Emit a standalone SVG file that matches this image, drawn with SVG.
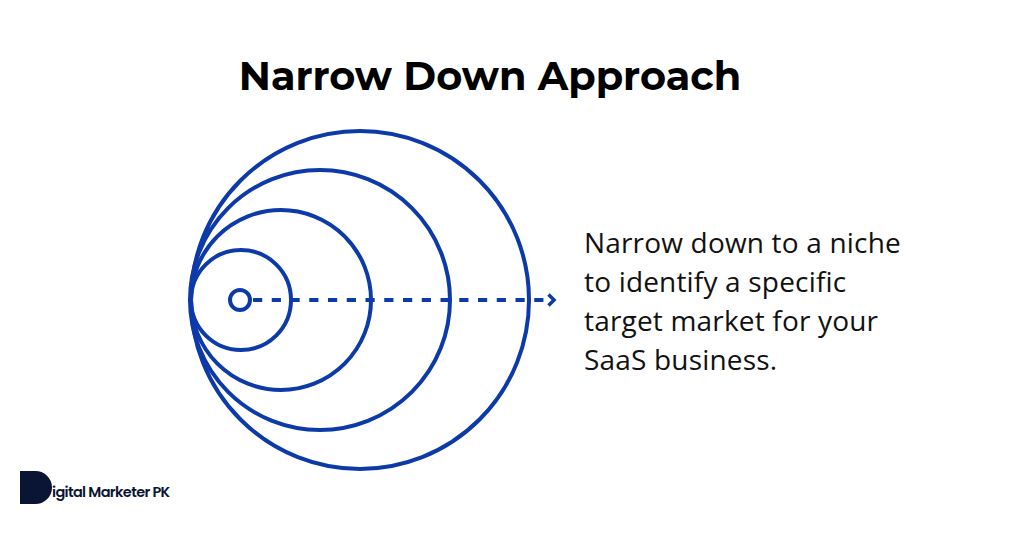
<svg xmlns="http://www.w3.org/2000/svg" width="1024" height="538" viewBox="0 0 1024 538">
<style>
.r{fill:none;stroke:#0d3aa9;stroke-width:4}
.b{font-family:"Open Sans","Noto Sans",sans-serif;font-size:28px;letter-spacing:.18px;fill:#111}
.t{font-family:Montserrat,Poppins,sans-serif;font-weight:700;font-size:39.800px;fill:#000}
</style>
<rect width="1024" height="538" fill="#fff"/>
<text id="title" class="t" x="490" y="90" text-anchor="middle">Narrow Down Approach</text>
<g id="circles">
<circle class="r" cx="360" cy="300" r="169"/>
<circle class="r" cx="320" cy="300" r="130"/>
<circle class="r" cx="281" cy="300" r="90"/>
<circle class="r" cx="241" cy="300" r="50"/>
<circle class="r" cx="240" cy="300" r="10"/>
</g>
<g id="connectors">
<path d="M253 300H552" fill="none" stroke="#0d3aa9" stroke-width="3.800" stroke-dasharray="9.200 9.550"/>
<path d="M548.500 294.500l5.500 5.500l-5.500 5.500" fill="none" stroke="#0d3aa9" stroke-width="3.500"/>
</g>
<g id="label" class="b">
<text x="584" y="253">Narrow down to a niche</text>
<text x="584" y="292">to identify a specific</text>
<text x="584" y="331">target market for your</text>
<text x="584" y="370">SaaS business.</text>
</g>
<g id="logo">
<path d="M20 471h15a16.500 16.500 0 0 1 17 16.500a16.500 16.500 0 0 1 -17 16.500h-15z" fill="#0a1433"/>
<text x="52" y="497" font-family="Poppins,Lato,sans-serif" font-weight="600" font-size="14.500" letter-spacing="-0.650" fill="#0a1433">igital Marketer PK</text>
</g>
</svg>
